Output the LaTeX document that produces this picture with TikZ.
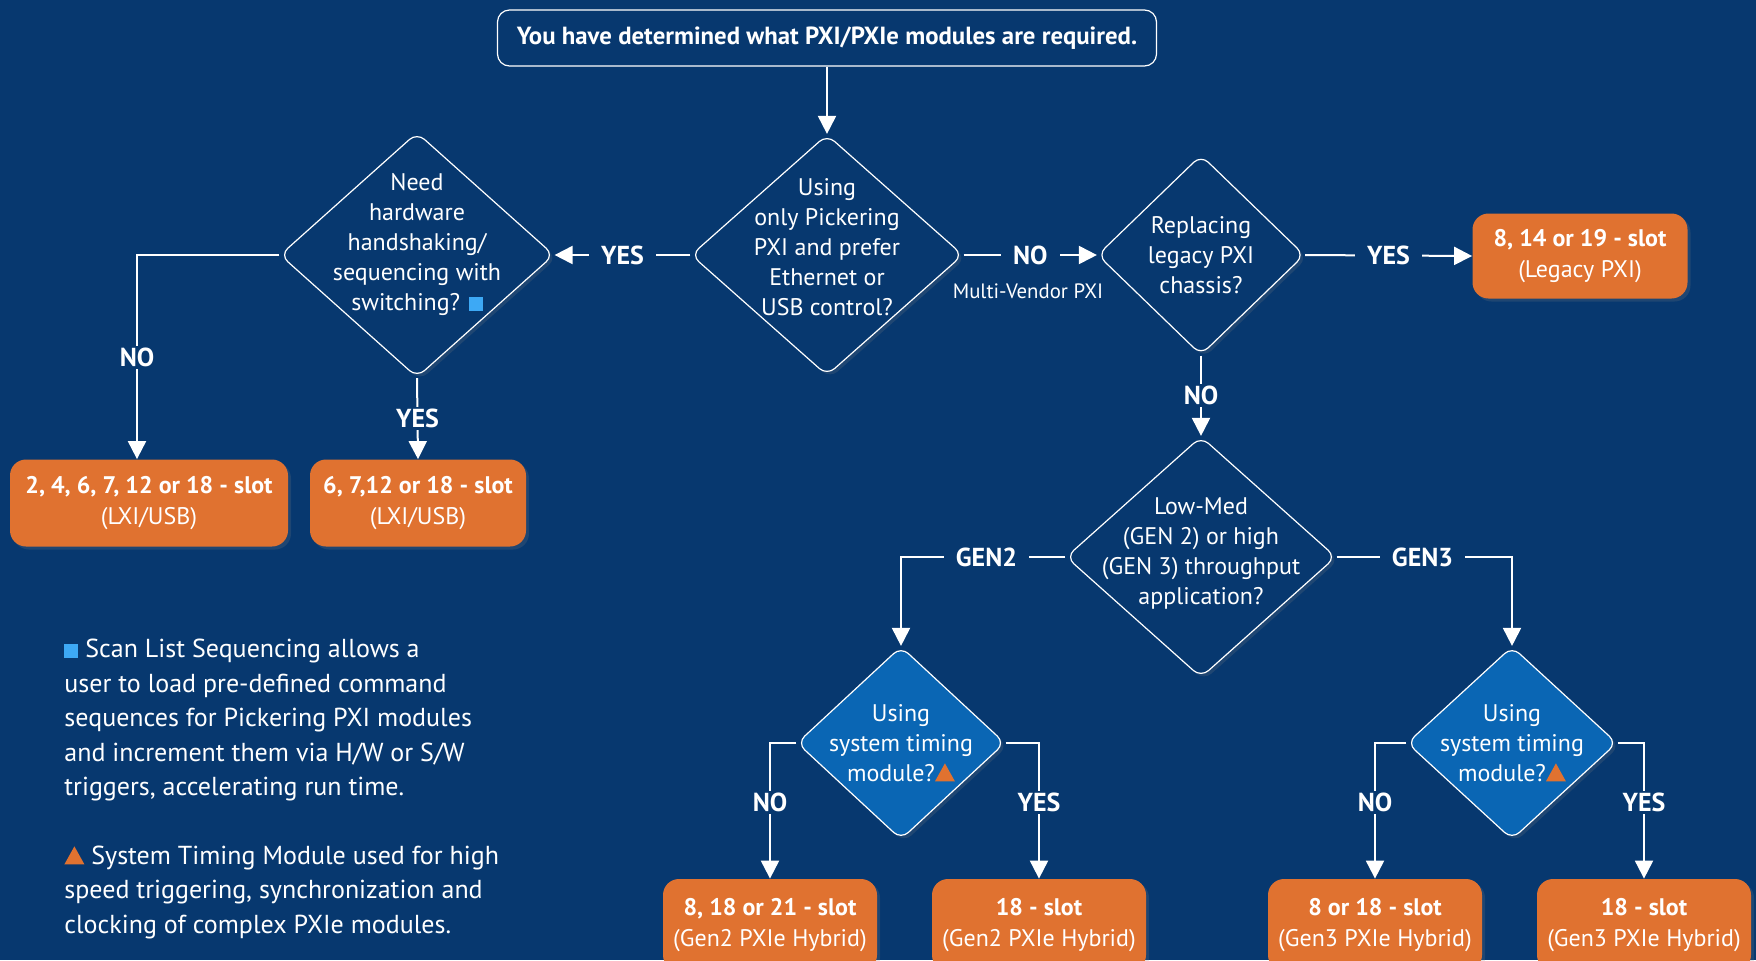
\documentclass[tikz,border=0pt]{standalone}
\usepackage{fontspec}
\setmainfont{PT Sans}
\usetikzlibrary{shapes.geometric,arrows.meta,shadows}
\definecolor{navy}{RGB}{7,56,111}
\definecolor{slotorange}{RGB}{224,114,48}
\definecolor{qblue}{RGB}{10,102,180}
\definecolor{markblue}{RGB}{61,169,245}
\newcommand{\sqmark}{\tikz[baseline=0pt,x=1pt,y=1pt]\fill[markblue] (0,0) rectangle (7,7);}
\newcommand{\trimark}{\tikz[baseline=0pt,x=1pt,y=1pt]\fill[slotorange] (0,0) -- (10,0) -- (5,9) -- cycle;}
\tikzset{
  question/.style={diamond, draw=white, line width=0.6pt, rounded corners=5pt, fill=navy, inner sep=0pt, drop shadow={opacity=0.2, shadow xshift=1.5pt, shadow yshift=-1.5pt}},
  qtext/.style={text=white, align=center, font=\fontsize{12}{15}\selectfont},
  slotbox/.style={rectangle, rounded corners=8pt, fill=slotorange, text=white, align=center, font=\fontsize{12}{15.5}\selectfont, drop shadow={opacity=0.2, shadow xshift=1.5pt, shadow yshift=-1.5pt}},
  answer/.style={text=white, font=\bfseries\fontsize{13}{15}\selectfont, fill=navy, inner xsep=6pt, inner ysep=1pt},
  flow/.style={color=white, line width=1pt, -{Triangle[width=9pt,length=9pt,fill=white]}},
}
\begin{document}
\begin{tikzpicture}[x=0.5pt,y=-0.5pt]
\fill [navy] (0,0) rectangle (1756,960);
\useasboundingbox (0,0) rectangle (1756,960);
\clip (0,0) rectangle (1756,960);
\node [rectangle, rounded corners=6pt, draw=white, line width=0.6pt, fill=navy, minimum width=329.5pt, minimum height=28pt, text=white, font=\bfseries\fontsize{12.4}{14}\selectfont](start) at (827,38){You have determined what PXI/PXIe modules are required.};
\node [question, minimum width=136pt, minimum height=120.5pt](pickering) at (827,255){};
\node [qtext, yshift=4pt] at (pickering){Using\\only Pickering\\PXI and prefer\\Ethernet or\\USB control?};
\node [question, minimum width=137pt, minimum height=122.5pt](handshake) at (417,255){};
\node [qtext, yshift=5pt] at (handshake){Need\\hardware\\handshaking/\\sequencing with\\switching? \sqmark};
\node [question, minimum width=103.5pt, minimum height=100pt](legacy) at (1201,255){};
\node [qtext] at (legacy){Replacing\\legacy PXI\\chassis?};
\node [question, minimum width=135pt, minimum height=120.5pt](throughput) at (1201,557){};
\node [qtext, yshift=2pt] at (throughput){Low-Med\\(GEN 2) or high\\(GEN 3) throughput\\application?};
\node [question, fill=qblue, minimum width=104pt, minimum height=96.5pt](timing2) at (901,743){};
\node [qtext] at (timing2){Using\\system timing\\module?\trimark};
\node [question, fill=qblue, minimum width=105pt, minimum height=96.5pt](timing3) at (1512,743){};
\node [qtext] at (timing3){Using\\system timing\\module?\trimark};
\node [slotbox, minimum width=107.5pt, minimum height=42.5pt](legacyslot) at (1580,256){\textbf{8, 14 or 19 - slot}\\(Legacy PXI)};
\node [slotbox, minimum width=139pt, minimum height=43.5pt](lxiall) at (149,503){\textbf{2, 4, 6, 7, 12 or 18 - slot}\\(LXI/USB)};
\node [slotbox, minimum width=108pt, minimum height=43.5pt](lxiseq) at (418,503){\textbf{6, 7,12 or 18 - slot}\\(LXI/USB)};
\node [slotbox, minimum width=107pt, minimum height=46pt](gentwono) at (770,925){\textbf{8, 18 or 21 - slot}\\(Gen2 PXIe Hybrid)};
\node [slotbox, minimum width=107pt, minimum height=46pt](gentwoyes) at (1039,925){\textbf{18 - slot}\\(Gen2 PXIe Hybrid)};
\node [slotbox, minimum width=107pt, minimum height=46pt](genthreeno) at (1375,925){\textbf{8 or 18 - slot}\\(Gen3 PXIe Hybrid)};
\node [slotbox, minimum width=107pt, minimum height=46pt](genthreeyes) at (1644,925){\textbf{18 - slot}\\(Gen3 PXIe Hybrid)};
\draw [flow](start) -- (pickering);
\draw [flow](pickering.west) -- node[answer]{YES} (handshake.east);
\draw [flow](pickering.east) -- node[answer](vendorno){NO} (legacy.west);
\node [text=white, font=\fontsize{10.4}{12}\selectfont](multivendor) at (1028,291){Multi-Vendor PXI};
\draw [flow](legacy.east) -- node[answer]{YES} (legacyslot.west);
\draw [flow](legacy.south) -- node[answer]{NO} (throughput.north);
\draw [flow](handshake.west) -| node[answer, pos=0.75]{NO} ([xshift=-6pt]lxiall.north);
\draw [flow](handshake.south) -- node[answer]{YES} (lxiseq.north);
\draw [flow](throughput.west) -| node[answer, pos=0.24]{GEN2} (timing2.north);
\draw [flow](throughput.east) -| node[answer, pos=0.245]{GEN3} (timing3.north);
\draw [flow](timing2.west) -| node[answer, pos=0.72]{NO} (gentwono.north);
\draw [flow](timing2.east) -| node[answer, pos=0.72]{YES} (gentwoyes.north);
\draw [flow](timing3.west) -| node[answer, pos=0.72]{NO} (genthreeno.north);
\draw [flow](timing3.east) -| node[answer, pos=0.72]{YES} (genthreeyes.north);
\node [anchor=north west, inner sep=0pt, text=white, align=left, font=\fontsize{13}{17.2}\selectfont](notes) at (64,639){\sqmark{} Scan List Sequencing allows a\\user to load pre-defined command\\sequences for Pickering PXI modules\\and increment them via H/W or S/W\\triggers, accelerating run time.\\[17.2pt]\trimark{} System Timing Module used for high\\speed triggering, synchronization and\\clocking of complex PXIe modules.};
\end{tikzpicture}
\end{document}
